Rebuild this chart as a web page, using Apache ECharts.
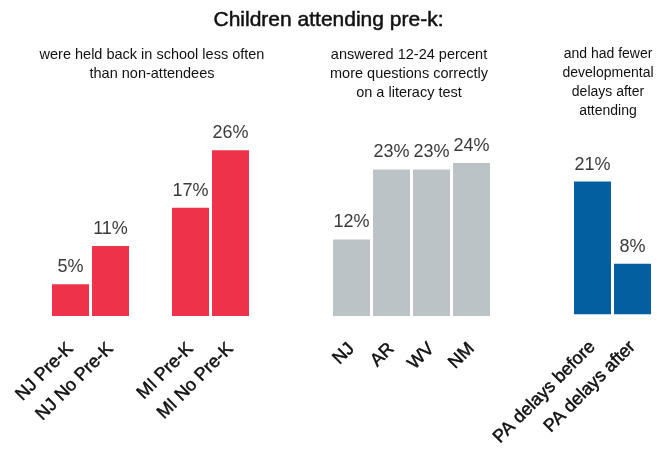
<!DOCTYPE html>
<html>
<head>
<meta charset="utf-8">
<script src="https://cdn.jsdelivr.net/npm/echarts@6/dist/echarts.min.js"></script>
<style>
  html, body { margin: 0; padding: 0; background: #fff; }
  #chart { width: 657px; height: 449px; }
</style>
</head>
<body>
<div id="chart"></div>
<script>
// Panel 1: grade retention (blank slot separates the two states)
const retentionCategories = ['NJ Pre-K', 'NJ No Pre-K', '', 'MI Pre-K', 'MI No Pre-K'];
const retentionValues = [5, 11, null, 17, 26];

// Panel 2: literacy test gains
const literacyCategories = ['NJ', 'AR', 'WV', 'NM'];
const literacyValues = [12, 23, 23, 24];

// Panel 3: developmental delays
const delayCategories = ['PA delays before', 'PA delays after'];
const delayValues = [21, 8];

const mainTitle = 'Children attending pre-k:';
const panelSubtitles = [
  'were held back in school less often\nthan non-attendees',
  'answered 12-24 percent\nmore questions correctly\non a literacy test',
  'and had fewer\ndevelopmental\ndelays after\nattending'
];

const FONT = '"Liberation Sans", Arial, Helvetica, sans-serif';
const colors = ['#ed3249', '#bcc3c6', '#045fa0'];
const yMax = 30;

const grids = [
  { left: 50.5, width: 200, top: 124.75, bottom: 133 },
  { left: 331.5, width: 160, top: 124.75, bottom: 133 },
  { left: 572.5, width: 80, top: 124.75, bottom: 133 }
];
const subtitleCenters = [152, 409, 608];
const categorySets = [retentionCategories, literacyCategories, delayCategories];
const valueSets = [retentionValues, literacyValues, delayValues];

const chart = echarts.init(document.getElementById('chart'), null, { renderer: 'canvas' });

// Headline and panel captions as centred text elements
const headings = [{
  type: 'text',
  x: 328.5,
  y: 10,
  style: {
    text: mainTitle,
    textAlign: 'center',
    textVerticalAlign: 'top',
    font: '21px ' + FONT,
    fill: '#111',
    stroke: '#111',
    lineWidth: 0.5
  }
}].concat(panelSubtitles.map((t, i) => ({
  type: 'text',
  x: subtitleCenters[i],
  y: 45,
  style: {
    text: t,
    textAlign: 'center',
    textVerticalAlign: 'top',
    font: (i === 2 ? '14px ' : '14.5px ') + FONT,
    lineHeight: 19,
    fill: '#111'
  }
})));

chart.setOption({
  animation: false,
  graphic: headings,
  grid: grids,
  xAxis: categorySets.map((cats, i) => ({
    type: 'category',
    gridIndex: i,
    data: cats,
    axisLine: { show: false },
    axisTick: { show: false },
    axisLabel: {
      rotate: 45,
      margin: 30,
      interval: 0,
      fontFamily: FONT,
      fontSize: 18,
      fontWeight: 'normal',
      color: '#111',
      textBorderColor: '#111',
      textBorderWidth: 0.5
    }
  })),
  yAxis: categorySets.map((c, i) => ({
    type: 'value',
    gridIndex: i,
    min: 0,
    max: yMax,
    show: false,
    splitLine: { show: false }
  })),
  series: valueSets.map((vals, i) => ({
    type: 'bar',
    xAxisIndex: i,
    yAxisIndex: i,
    data: vals,
    barCategoryGap: '7.5%',
    itemStyle: { color: colors[i] },
    label: {
      show: true,
      position: 'top',
      distance: 8,
      formatter: p => p.value == null ? '' : p.value + '%',
      fontFamily: FONT,
      fontSize: 18,
      color: '#3a3a3a'
    }
  }))
});
</script>
</body>
</html>
